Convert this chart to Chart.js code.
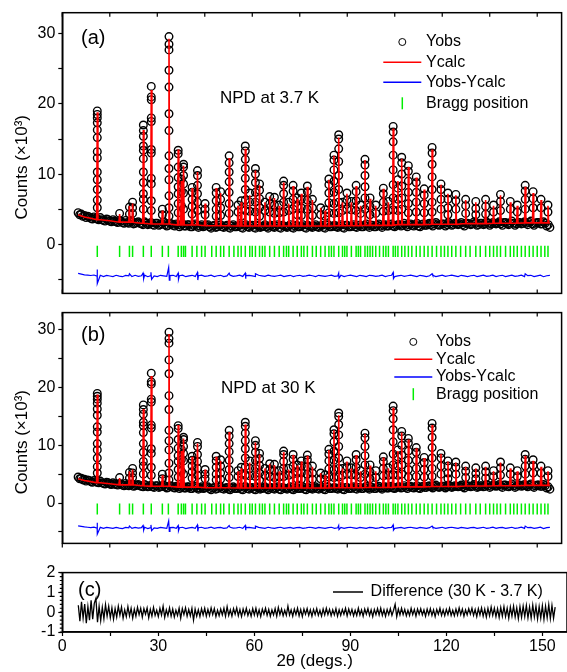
<!DOCTYPE html>
<html>
<head>
<meta charset="utf-8">
<script src="https://cdn.jsdelivr.net/npm/chart.js@4.4.1/dist/chart.umd.min.js"></script>
<style>
  body { margin: 0; background: #fff; }
  #wrap { position: relative; width: 567px; height: 672px; overflow: hidden; }
  canvas { position: absolute; left: 0; }
</style>
</head>
<body>
<div id="wrap">
  <canvas id="chartA" width="567" height="306" style="top:0px"></canvas>
  <canvas id="chartB" width="567" height="256" style="top:300px"></canvas>
  <canvas id="chartC" width="567" height="112" style="top:560px"></canvas>
</div>
<script>
// ======================================
// DATA
// ======================================

const xTickLabels = [0, 30, 60, 90, 120, 150];
const yTicks = [-5, 0, 5, 10, 15, 20, 25, 30];
const yTickLabels = [0, 10, 20, 30];
const cTickLabels = [-1, 0, 1, 2];

// reflections: position (deg), calculated top (x10^3), observed points on the peak
const peakPos = [11.05, 18.1, 21.2, 22.2, 25.6, 28.1, 31.6, 33.7, 36.6, 37.6, 38.3, 41.0, 42.7, 45.1, 48.6, 50.0,
  52.7, 55.5, 56.5, 57.8, 59.2, 61.0, 62.3, 64.0, 65.5, 67.0, 68.5, 69.9, 71.5, 72.9, 74.2, 75.5, 77.4, 79.0,
  81.6, 83.0, 84.2, 85.8, 87.3, 88.5, 89.9, 91.3, 92.8, 94.2, 95.6, 97.2, 99.0, 101.4, 103.0, 104.5, 106.0,
  107.2, 109.3, 111.8, 114.3, 116.8, 119.6, 121.8, 124.3, 127.4, 130.6, 133.7, 136.2, 138.4, 141.5, 143.7,
  146.2, 148.7, 151.2, 153.4];

const peakCalc = [18.8, 4.3, 5.5, 5.8, 16.3, 22.0, 4.8, 29.3, 13.5, 9.0, 11.2, 8.0, 10.3, 5.8, 8.0, 7.3,
  12.3, 5.5, 6.0, 13.6, 7.0, 10.5, 8.4, 6.0, 6.8, 6.6, 5.5, 8.8, 5.8, 8.3, 6.5, 7.2, 8.2, 6.3,
  5.2, 4.8, 9.2, 12.6, 15.2, 6.0, 7.2, 6.0, 8.3, 5.5, 12.0, 6.5, 5.5, 7.9, 6.0, 16.5, 9.0,
  12.2, 11.0, 9.5, 7.8, 13.5, 8.5, 7.2, 7.0, 6.3, 6.0, 6.3, 5.5, 7.0, 6.0, 5.5,
  8.2, 7.3, 6.3, 5.5];

const peakObs = [
  [19.0, 18.5, 18.0, 17.3, 16.3, 15.2, 13.2, 12.3, 10.3, 9.2, 7.8, 6.3, 5.2],
  [4.4],
  [5.3, 4.3],
  [6.0, 5.2, 4.4],
  [17.0, 16.2, 15.4, 14.0, 13.4, 12.2, 10.3, 8.8, 7.2, 6.4, 5.0],
  [22.5, 21.0, 20.6, 18.0, 17.5, 13.5, 13.0, 9.4, 8.6, 6.2, 4.8],
  [5.0, 4.2],
  [29.6, 28.5, 27.7, 24.8, 22.4, 18.6, 16.2, 12.6, 10.8, 9.2, 6.9, 5.2, 4.0],
  [13.4, 12.9, 11.0, 9.5, 8.2, 7.2, 5.8, 4.5],
  [9.3, 7.5, 5.5],
  [11.4, 11.0, 9.8, 8.6, 7.3, 5.0],
  [8.1, 7.4, 6.4, 5.4, 4.3],
  [10.5, 9.8, 8.4, 7.2, 6.0, 4.8],
  [5.8, 5.0, 4.2],
  [8.1, 7.3, 6.2, 5.0, 4.0],
  [7.5, 6.4, 5.2, 4.1],
  [12.6, 11.6, 10.3, 8.9, 7.4, 5.8, 4.4],
  [5.6, 4.6],
  [6.2, 5.0, 4.0],
  [14.0, 13.3, 12.1, 10.8, 9.4, 7.8, 6.3, 4.8],
  [7.3, 6.0, 4.7],
  [10.8, 10.0, 8.8, 7.4, 6.0, 4.6],
  [8.6, 7.7, 6.5, 5.2, 4.0],
  [6.0, 4.8],
  [6.8, 5.8, 4.6],
  [6.7, 5.6, 4.4],
  [5.6, 4.5],
  [9.0, 8.4, 7.2, 6.0, 4.6],
  [6.0, 4.8],
  [8.4, 7.6, 6.4, 5.0],
  [6.6, 5.4, 4.2],
  [7.3, 6.4, 5.2, 4.1],
  [8.3, 7.5, 6.3, 5.0],
  [6.4, 5.2, 4.1],
  [5.2, 4.2],
  [4.9, 4.0],
  [9.3, 8.5, 7.3, 5.9, 4.5],
  [12.7, 12.0, 10.6, 9.0, 7.4, 5.8, 4.4],
  [15.6, 15.0, 13.6, 11.8, 9.8, 7.8, 6.0, 4.5],
  [6.0, 4.8],
  [7.3, 6.3, 5.0],
  [6.1, 4.9],
  [8.4, 7.5, 6.2, 4.8],
  [5.6, 4.4],
  [12.1, 11.3, 9.8, 8.2, 6.6, 5.0],
  [6.6, 5.4, 4.2],
  [5.6, 4.4],
  [8.0, 7.2, 6.0, 4.7],
  [6.1, 4.8],
  [16.8, 16.0, 14.6, 12.7, 10.6, 8.5, 6.6, 4.9],
  [9.2, 8.0, 6.4, 4.8],
  [12.4, 11.6, 10.0, 8.3, 6.6, 5.0],
  [11.2, 10.4, 9.0, 7.4, 5.8, 4.5],
  [9.6, 8.8, 7.4, 6.0, 4.6],
  [7.9, 7.0, 5.8, 4.5],
  [13.8, 13.0, 11.4, 9.6, 7.8, 6.0, 4.6],
  [8.6, 7.8, 6.4, 5.0],
  [7.3, 6.4, 5.2, 4.2],
  [7.1, 6.2, 5.0],
  [6.4, 5.5, 4.4],
  [6.1, 5.1, 4.2],
  [6.4, 5.4, 4.3],
  [5.6, 4.6],
  [7.1, 6.1, 4.8],
  [6.1, 5.0],
  [5.6, 4.6],
  [8.4, 7.6, 6.4, 5.0],
  [7.5, 6.5, 5.2],
  [6.4, 5.2],
  [5.6, 4.6]
];

// calculated background
const bgCalcX = [5, 7, 9, 12, 15, 20, 25, 30, 40, 50, 60, 70, 80, 90, 100, 110, 120, 130, 140, 150, 154];
const bgCalcY = [4.2, 3.9, 3.7, 3.5, 3.35, 3.15, 3.0, 2.9, 2.75, 2.65, 2.6, 2.6, 2.6, 2.65, 2.7, 2.8, 2.85, 2.95, 3.0, 3.05, 3.05];

// observed background: whole degrees from 5 to 154, and half degrees from 5.5 to 153.5
const scanStart = 5;
const obsBg = [
  4.5, 4.3, 4.1, 4.0, 3.7, 3.9, 3.6, 3.8, 3.4, 3.6,
  3.3, 3.5, 3.2, 3.4, 3.1, 3.4, 3.0, 3.3, 3.0, 3.2,
  2.9, 3.2, 2.8, 3.1, 2.7, 3.0, 2.8, 3.1, 2.6, 3.0,
  2.7, 2.9, 2.5, 2.9, 2.6, 2.8, 2.5, 2.9, 2.4, 2.8,
  2.6, 2.8, 2.3, 2.7, 2.5, 2.8, 2.4, 2.7, 2.3, 2.8,
  2.5, 2.7, 2.3, 2.8, 2.4, 2.7, 2.3, 2.6, 2.5, 2.8,
  2.3, 2.7, 2.4, 2.8, 2.3, 2.6, 2.4, 2.8, 2.3, 2.7,
  2.5, 2.8, 2.3, 2.6, 2.4, 2.8, 2.4, 2.7, 2.3, 2.8,
  2.5, 2.7, 2.4, 2.8, 2.3, 2.7, 2.5, 2.8, 2.4, 2.7,
  2.5, 2.9, 2.4, 2.7, 2.5, 2.9, 2.4, 2.8, 2.6, 2.9,
  2.5, 2.8, 2.6, 3.0, 2.5, 2.9, 2.6, 3.0, 2.5, 2.9,
  2.7, 3.0, 2.6, 3.1, 2.7, 2.9, 2.6, 3.1, 2.7, 3.0,
  2.8, 3.1, 2.6, 3.0, 2.8, 3.2, 2.7, 3.0, 2.8, 3.2,
  2.7, 3.1, 2.9, 3.2, 2.7, 3.1, 2.8, 3.3, 2.7, 3.1,
  2.9, 3.2, 2.8, 3.3, 2.7, 3.1, 2.9, 3.2, 2.6, 2.4
];
const obsBgMid = [
  4.2, 4.0, 3.8, 3.9, 3.6, 3.7, 3.5, 3.5, 3.3, 3.5,
  3.2, 3.3, 3.1, 3.3, 3.0, 3.1, 3.2, 2.9, 3.1, 3.0,
  2.8, 3.0, 2.9, 2.8, 3.0, 2.7, 2.9, 2.8, 2.7, 2.9,
  2.6, 2.8, 2.7, 2.6, 2.8, 2.5, 2.7, 2.6, 2.6, 2.5,
  2.7, 2.5, 2.6, 2.4, 2.7, 2.5, 2.6, 2.4, 2.6, 2.5,
  2.6, 2.4, 2.7, 2.5, 2.6, 2.4, 2.7, 2.4, 2.6, 2.5,
  2.6, 2.5, 2.6, 2.4, 2.7, 2.5, 2.6, 2.4, 2.6, 2.5,
  2.6, 2.4, 2.7, 2.5, 2.6, 2.5, 2.6, 2.4, 2.7, 2.5,
  2.6, 2.5, 2.6, 2.4, 2.7, 2.5, 2.6, 2.5, 2.7, 2.5,
  2.7, 2.6, 2.7, 2.5, 2.7, 2.6, 2.7, 2.6, 2.8, 2.6,
  2.7, 2.8, 2.7, 2.7, 2.8, 2.7, 2.8, 2.6, 2.8, 2.7,
  2.9, 2.8, 2.9, 2.8, 2.8, 2.9, 2.8, 2.9, 2.8, 2.9,
  2.9, 2.8, 3.0, 2.9, 2.9, 3.0, 2.8, 3.0, 2.9, 3.0,
  2.9, 3.0, 3.0, 2.9, 3.1, 2.9, 3.0, 3.0, 2.9, 3.1,
  3.0, 3.0, 3.1, 2.9, 3.0, 3.1, 2.9, 3.0, 2.8
];

// Yobs-Ycalc, one value per degree from 5 to 154, plus the spikes at strong peaks
const residual = [
  0.35, 0.25, 0.15, 0.1, 0.05, 0.12, -0.05, 0.08, -0.1, 0.06,
  -0.02, -0.1, 0.08, -0.04, -0.12, 0.06, 0.0, -0.1, 0.08, -0.06,
  0.02, 0.1, -0.12, 0.05, -0.02, -0.1, 0.08, 0.0, -0.08, 0.04,
  0.08, -0.1, 0.02, 0.1, -0.12, 0.0, 0.08, -0.08, 0.02, 0.1,
  -0.08, 0.0, 0.1, -0.1, 0.02, 0.08, -0.1, 0.0, 0.1, -0.06,
  0.0, 0.1, -0.08, 0.02, 0.08, 0.0, -0.1, 0.08, 0.0, -0.08,
  0.1, 0.0, -0.08, 0.02, 0.1, -0.1, 0.0, 0.08, -0.1, 0.02,
  0.08, -0.08, 0.0, 0.1, 0.02, -0.1, 0.08, 0.0, -0.08, 0.02,
  0.1, -0.08, 0.0, 0.08, -0.1, 0.02, 0.1, 0.0, -0.1, 0.08,
  0.0, -0.1, 0.08, 0.02, -0.08, 0.0, 0.1, -0.1, 0.02, 0.08,
  -0.1, 0.0, 0.08, -0.08, 0.02, 0.1, 0.0, -0.1, 0.08, 0.0,
  -0.1, 0.02, 0.08, -0.1, 0.0, 0.1, -0.08, 0.02, 0.1, 0.0,
  -0.1, 0.08, 0.0, -0.1, 0.02, 0.08, -0.1, 0.0, 0.1, -0.08,
  0.0, 0.1, -0.1, 0.02, 0.08, -0.1, 0.0, 0.1, -0.08, 0.0,
  0.1, -0.1, 0.02, 0.08, -0.1, 0.0, 0.1, -0.12, 0.02, 0.08
];
const residualSpikes = [[11.0, 0.9], [11.1, -1.1], [21.2, 0.3], [25.5, 0.4], [25.7, -0.4], [28.0, 0.5], [28.2, -0.5],
  [33.6, 1.2], [33.8, -0.6], [36.6, 0.4], [36.7, -0.5], [42.7, 0.5], [42.8, -0.6], [52.7, 0.4], [57.8, 0.4],
  [57.9, -0.4], [61.0, 0.3], [87.3, 0.4], [87.4, -0.3], [104.5, 0.5], [104.6, -0.4], [116.8, 0.3], [146.2, 0.3]];

// Bragg reflections
const braggPos = [11.05, 18.1, 21.2, 22.2, 25.6, 28.1, 31.6, 33.5, 36.6, 37.6, 38.3, 38.9, 41.0, 42.5, 44.0, 45.1,
  47.2, 48.6, 50.0, 51.0, 52.7, 54.2, 55.5, 56.5, 57.8, 59.2, 60.0, 61.0, 62.3, 63.2, 64.0, 65.5, 67.0, 68.5,
  69.9, 70.8, 71.5, 72.9, 74.2, 75.5, 76.3, 77.4, 79.0, 80.2, 81.6, 83.0, 84.2, 85.0, 85.8, 87.3, 88.5, 89.2,
  89.9, 91.3, 92.8, 93.5, 94.2, 95.6, 96.4, 97.2, 98.0, 99.0, 100.2, 101.4, 102.2, 103.0, 104.5, 105.2, 106.0,
  107.2, 108.2, 109.3, 110.4, 111.8, 113.0, 114.3, 115.5, 116.8, 118.2, 119.6, 120.7, 121.8, 123.0, 124.3,
  125.8, 127.4, 128.8, 130.6, 132.0, 133.7, 135.0, 136.2, 137.3, 138.4, 140.0, 141.5, 142.6, 143.7, 145.0,
  146.2, 147.5, 148.7, 150.0, 151.2, 152.4, 153.4];

// difference 30 K - 3.7 K, every 0.5 deg from 5 to 154
const diffStep = 0.5;
const diff30 = [
  0.35, -0.45, 0.52, -0.3, 0.41, -0.55, 0.28, -0.4, 0.6, -0.35,
  0.45, 0.7, -0.5, 0.3, -0.42, 0.25, -0.33, 0.38, -0.2, 0.3,
  -0.28, 0.22, -0.35, 0.18, -0.25, 0.3, -0.15, 0.26, -0.3, 0.12,
  -0.22, 0.28, -0.18, 0.2, -0.3, 0.15, -0.2, 0.25, -0.12, 0.2,
  -0.25, 0.18, -0.1, 0.22, -0.28, 0.14, -0.2, 0.24, -0.16, 0.1,
  -0.22, 0.2, -0.14, 0.3, -0.26, 0.12, -0.18, 0.22, -0.2, 0.16,
  -0.24, 0.1, -0.16, 0.2, -0.3, 0.18, -0.12, 0.22, -0.2, 0.14,
  -0.18, 0.2, -0.4, 0.16, -0.2, 0.12, -0.22, 0.18, -0.14, 0.2,
  -0.2, 0.14, -0.16, 0.22, -0.12, 0.18, -0.22, 0.1, -0.18, 0.16,
  -0.14, 0.2, -0.2, 0.28, -0.16, 0.12, -0.2, 0.18, -0.1, 0.22,
  -0.18, 0.14, -0.22, 0.16, -0.12, 0.2, -0.16, 0.1, -0.2, 0.18,
  -0.14, 0.2, -0.18, 0.12, -0.22, 0.16, -0.1, 0.2, -0.16, 0.14,
  -0.2, 0.12, -0.14, 0.18, -0.2, 0.24, -0.12, 0.16, -0.18, 0.1,
  -0.16, 0.3, -0.14, 0.12, -0.2, 0.16, -0.12, 0.2, -0.18, 0.14,
  -0.22, 0.16, -0.1, 0.18, -0.16, 0.12, -0.2, 0.14, -0.12, 0.18,
  -0.16, 0.1, -0.2, 0.16, -0.14, 0.2, -0.12, 0.14, -0.18, 0.12,
  -0.14, 0.18, -0.2, 0.12, -0.16, 0.14, -0.1, 0.2, -0.18, 0.16,
  -0.12, 0.14, -0.18, 0.1, -0.16, 0.2, -0.14, 0.12, -0.2, 0.16,
  -0.1, 0.18, -0.16, 0.12, -0.22, 0.14, -0.12, 0.18, -0.14, 0.2,
  -0.16, 0.12, -0.2, 0.14, -0.12, 0.18, -0.16, 0.1, 0.4, -0.22,
  0.16, -0.14, 0.2, -0.12, 0.14, -0.18, 0.1, -0.16, 0.2, -0.12,
  0.14, -0.2, 0.16, -0.1, 0.18, -0.14, 0.12, -0.2, 0.16, -0.12,
  0.18, -0.16, 0.12, -0.22, 0.14, -0.1, 0.2, -0.16, 0.12, -0.18,
  0.14, -0.12, 0.2, -0.16, 0.1, -0.18, 0.16, -0.14, 0.22, -0.12,
  0.16, -0.2, 0.12, -0.14, 0.18, -0.1, 0.2, -0.16, 0.14, -0.22,
  0.18, -0.14, 0.22, -0.2, 0.16, -0.24, 0.2, -0.18, 0.26, -0.16,
  0.2, -0.22, 0.18, -0.26, 0.24, -0.2, 0.28, -0.22, 0.2, -0.3,
  0.26, -0.2, 0.3, -0.24, 0.22, -0.32, 0.28, -0.26, 0.3, -0.22,
  0.34, -0.28, 0.26, -0.3, 0.36, -0.24, 0.3, -0.34, 0.28, -0.3,
  0.32, -0.36, 0.3, -0.28, 0.38, -0.32, 0.34, -0.3, 0.26
];

const xMax = 157.7;
const fontFamily = '"Liberation Sans", Arial, sans-serif';


// ======================================
// SERIES BUILDERS
// ======================================

function obsPoints() {
  const pts = obsBg.map((y, i) => ({ x: scanStart + i, y }));
  obsBgMid.forEach((y, i) => pts.push({ x: scanStart + 0.5 + i, y }));
  peakPos.forEach((p, i) => peakObs[i].forEach(y => pts.push({ x: p, y })));
  return pts;
}

function nearestBg(x) {
  let best = 0;
  bgCalcX.forEach((bx, i) => {
    if (Math.abs(bx - x) < Math.abs(bgCalcX[best] - x)) best = i;
  });
  return bgCalcY[best];
}

function calcPoints() {
  const pts = bgCalcX.map((x, i) => ({ x, y: bgCalcY[i] }));
  peakPos.forEach((p, i) => {
    const b = nearestBg(p);
    pts.push({ x: p - 0.2, y: b }, { x: p, y: peakCalc[i] }, { x: p + 0.2, y: b });
  });
  return pts.sort((a, b) => a.x - b.x);
}

function residualPoints(offset) {
  const pts = residual.map((r, i) => ({ x: scanStart + i, y: r + offset }));
  residualSpikes.forEach(([x, r]) => pts.push({ x, y: r + offset }));
  return pts.sort((a, b) => a.x - b.x);
}

function braggPoints(top, bottom) {
  const pts = [];
  braggPos.forEach(p => pts.push({ x: p, y: top }, { x: p, y: bottom }, { x: p, y: null }));
  return pts;
}


// ======================================
// FRAME, TICKS, LABELS AND LEGEND
// ======================================

const panelDeco = {
  id: 'panelDeco',
  afterDraw(chart, args, o) {
    const { ctx, chartArea: a, scales: { x, y } } = chart;
    ctx.save();
    ctx.strokeStyle = '#000';
    ctx.lineWidth = 1.5;
    ctx.strokeRect(a.left, a.top, a.right - a.left, a.bottom - a.top);

    ctx.lineWidth = 1.2;
    ctx.beginPath();
    for (let v = 0; v <= 150; v += 15) {
      const px = x.getPixelForValue(v);
      if (o.topTicks) { ctx.moveTo(px, a.top); ctx.lineTo(px, a.top + 4); }
      if (o.bottomTicks === 'in') { ctx.moveTo(px, a.bottom); ctx.lineTo(px, a.bottom - 4); }
      if (o.bottomTicks === 'out') { ctx.moveTo(px, a.bottom); ctx.lineTo(px, a.bottom + 4); }
    }
    if (o.minorY) {
      for (let v = -1; v <= 2.001; v += 0.2) {
        const py = y.getPixelForValue(v);
        ctx.moveTo(a.left, py); ctx.lineTo(a.left - 2.5, py);
      }
    }
    ctx.stroke();

    ctx.fillStyle = '#000';
    ctx.textBaseline = 'middle';
    ctx.textAlign = 'left';
    ctx.font = '20px ' + fontFamily;
    ctx.fillText(o.tag, a.left + o.tagAt[0], a.top + o.tagAt[1]);
    if (o.note) {
      ctx.font = '17px ' + fontFamily;
      ctx.fillText(o.note, a.left + o.noteAt[0], a.top + o.noteAt[1]);
    }

    // legend
    ctx.font = '16px ' + fontFamily;
    chart.data.datasets.forEach((ds, i) => {
      const sx = a.left + o.legend.x;
      const sy = a.top + o.legend.rows[i];
      ctx.beginPath();
      if (ds.legendSymbol === 'circle') {
        ctx.strokeStyle = '#000';
        ctx.lineWidth = 1;
        ctx.arc(sx, sy, 3.5, 0, Math.PI * 2);
      } else if (ds.legendSymbol === 'tick') {
        ctx.strokeStyle = ds.borderColor;
        ctx.lineWidth = 1.5;
        ctx.moveTo(sx, sy - 6);
        ctx.lineTo(sx, sy + 6);
      } else {
        ctx.strokeStyle = ds.borderColor;
        ctx.lineWidth = 1.5;
        ctx.moveTo(sx - o.legend.half, sy);
        ctx.lineTo(sx + o.legend.half, sy);
      }
      ctx.stroke();
      ctx.fillText(ds.label, a.left + o.legend.text, sy);
    });
    ctx.restore();
  }
};


// ======================================
// PANEL CONFIG
// ======================================

function yScale(min, max, ticks, labels, title) {
  return {
    min, max,
    afterFit: s => { s.width = 62.3; },
    afterBuildTicks: s => { s.ticks = ticks.map(value => ({ value })); },
    ticks: {
      autoSkip: false,
      padding: 3,
      color: '#000',
      font: { size: 16, family: fontFamily },
      callback: v => labels.includes(v) ? String(v) : ''
    },
    grid: { drawOnChartArea: false, tickLength: 4, tickColor: '#000', tickWidth: 1.2 },
    border: { color: '#000', width: 1.5 },
    title: {
      display: !!title,
      text: title,
      color: '#000',
      font: { size: 17, family: fontFamily },
      padding: { top: 12, bottom: 0 }
    }
  };
}

function panelConfig(p) {
  return {
    type: 'line',
    data: {
      datasets: [
        {
          label: 'Yobs', data: obsPoints(), showLine: false, pointStyle: 'circle', pointRadius: 3.8,
          borderColor: '#000', borderWidth: 1.4, backgroundColor: 'rgba(0,0,0,0)', order: 1, legendSymbol: 'circle'
        },
        {
          label: 'Ycalc', data: calcPoints(), borderColor: '#ff0000', borderWidth: 1.6,
          pointRadius: 0, order: 0, legendSymbol: 'line'
        },
        {
          label: 'Yobs-Ycalc', data: residualPoints(p.residualOffset), borderColor: '#0000ff', borderWidth: 1.2,
          pointRadius: 0, order: 2, legendSymbol: 'line'
        },
        {
          label: 'Bragg position', data: braggPoints(p.bragg[0], p.bragg[1]), borderColor: '#00ee00',
          borderWidth: 1.5, pointRadius: 0, spanGaps: false, order: 3, legendSymbol: 'tick'
        }
      ]
    },
    options: {
      responsive: false,
      animation: false,
      events: [],
      layout: { padding: p.padding },
      scales: {
        x: { type: 'linear', min: 0, max: xMax, display: false },
        // trailing spaces push the centred title down, as in the original figure
        y: yScale(-7, 33, yTicks, yTickLabels, 'Counts (×10³)      ')
      },
      plugins: {
        legend: { display: false },
        tooltip: { enabled: false },
        panelDeco: p.deco
      }
    },
    plugins: [panelDeco]
  };
}


// ======================================
// PANEL (a) NPD AT 3.7 K
// ======================================

new Chart(document.getElementById('chartA'), panelConfig({
  residualOffset: -4.5,
  bragg: [-0.2, -1.8],
  padding: { top: 12.7, bottom: 0.3, left: 0, right: 0 },
  deco: {
    tag: '(a)', tagAt: [18.7, 25.6],
    note: 'NPD at 3.7 K', noteAt: [157.7, 85.6],
    topTicks: true, bottomTicks: 'in',
    legend: { x: 340, half: 19, text: 363.7, rows: [29.3, 49.6, 69.6, 90.6] }
  }
}));


// ======================================
// PANEL (b) NPD AT 30 K
// ======================================

new Chart(document.getElementById('chartB'), panelConfig({
  residualOffset: -4.3,
  bragg: [-0.1, -2.0],
  padding: { top: 5.7, bottom: 4.5, left: 0, right: 0 },
  deco: {
    tag: '(b)', tagAt: [18.7, 23.3],
    note: 'NPD at 30 K', noteAt: [158.7, 75.3],
    topTicks: true, bottomTicks: 'out',
    legend: { x: 351, half: 19, text: 373.7, rows: [29.3, 46.6, 64.3, 81.6] }
  }
}));


// ======================================
// PANEL (c) DIFFERENCE
// ======================================

new Chart(document.getElementById('chartC'), {
  type: 'line',
  data: {
    datasets: [{
      label: 'Difference (30 K - 3.7 K)',
      data: diff30.map((y, i) => ({ x: scanStart + i * diffStep, y })),
      borderColor: '#000',
      borderWidth: 1.3,
      pointRadius: 0,
      legendSymbol: 'line'
    }]
  },
  options: {
    responsive: false,
    animation: false,
    events: [],
    layout: { padding: { top: 9.3, bottom: 0, left: 0, right: 0 } },
    scales: {
      x: {
        type: 'linear', min: 0, max: xMax,
        afterFit: s => { s.height = 40; },
        ticks: {
          stepSize: 15, includeBounds: false, autoSkip: false, maxRotation: 0, padding: 1,
          color: '#000', font: { size: 16, family: fontFamily },
          callback: v => xTickLabels.includes(v) ? String(v) : ''
        },
        grid: { drawOnChartArea: false, tickLength: 4, tickColor: '#000', tickWidth: 1.2 },
        border: { color: '#000', width: 1.5 },
        title: {
          display: true, text: '2θ (degs.)', color: '#000',
          font: { size: 17, family: fontFamily }, padding: { top: 0, bottom: 0 }
        }
      },
      y: yScale(-1, 2, cTickLabels, cTickLabels, '')
    },
    plugins: {
      legend: { display: false },
      tooltip: { enabled: false },
      panelDeco: {
        tag: '(c)', tagAt: [15.7, 17.4],
        topTicks: false, bottomTicks: 'none', minorY: true,
        legend: { x: 285.7, half: 15, text: 308.3, rows: [19.4] }
      }
    }
  },
  plugins: [panelDeco]
});
</script>
</body>
</html>
